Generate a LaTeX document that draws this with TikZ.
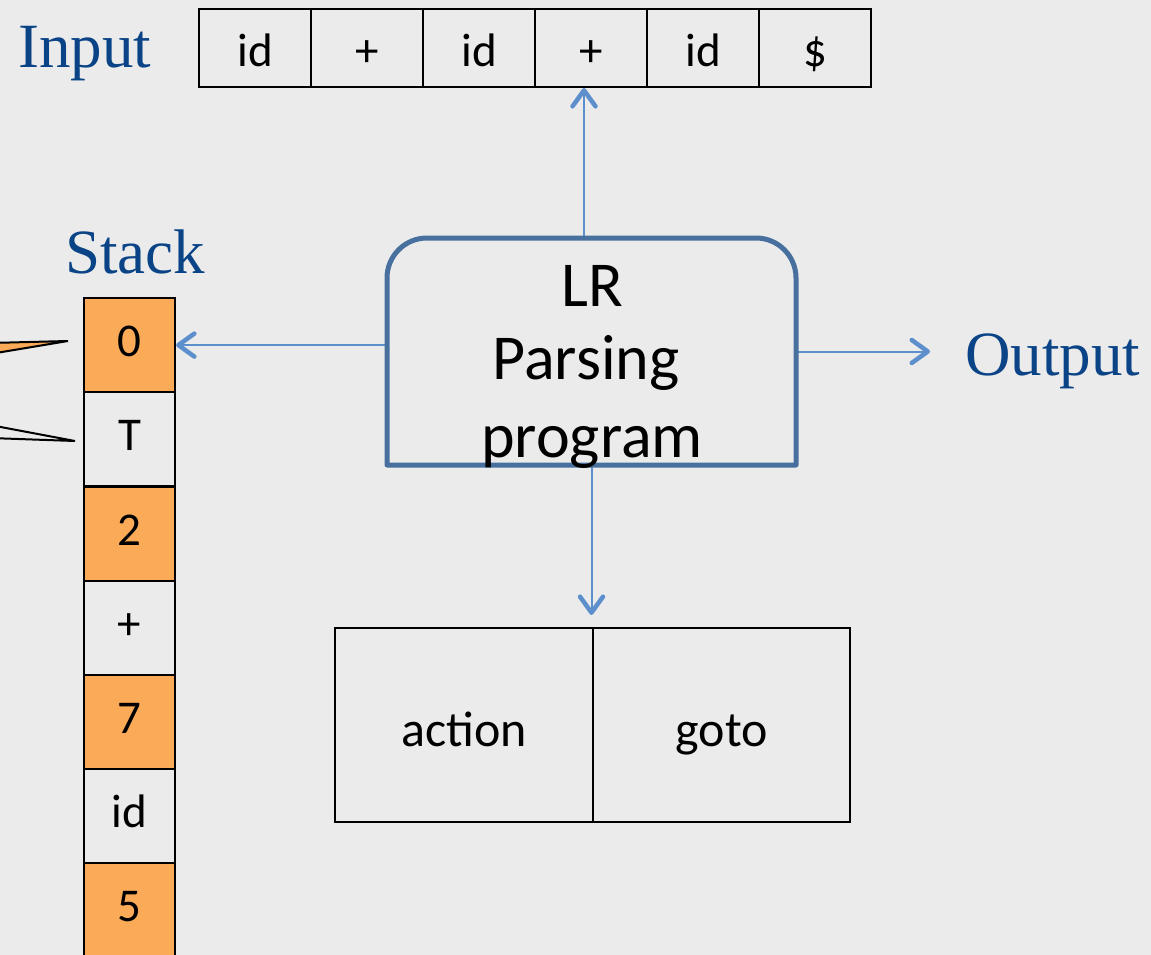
\documentclass[tikz,border=0pt]{standalone}
\usepackage{fontspec}
\setmainfont{Liberation Serif}
\newfontfamily\calib{Carlito}
\usetikzlibrary{arrows.meta,calc}
\definecolor{bg}{RGB}{235,235,235}
\definecolor{orng}{RGB}{251,170,88}
\definecolor{lblue}{RGB}{10,68,134}
\definecolor{connblue}{RGB}{92,143,203}
\definecolor{framecol}{RGB}{72,112,158}

\begin{document}
\begin{tikzpicture}[x=1pt,y=-1pt,
  cell/.style={draw=black, line width=2.2pt, inner sep=0pt,
    font={\calib\fontsize{47}{56}\selectfont}},
  incell/.style={cell, minimum width=112pt, minimum height=78pt,
    text height=38pt, text depth=0pt},
  stk/.style={cell, minimum width=91pt, minimum height=94.2pt,
    text height=23pt, text depth=0pt},
  stkstate/.style={stk, fill=orng},
  tblcell/.style={cell, minimum height=194pt, text height=42pt, text depth=0pt,
    font={\calib\fontsize{50}{60}\selectfont}},
  lbl/.style={anchor=base west, text=lblue, inner sep=0pt,
    font={\fontsize{63}{75}\selectfont}},
  lrtext/.style={anchor=base, inner sep=0pt,
    font={\calib\fontsize{64}{76}\selectfont}},
  lrframe/.style={draw=framecol, line width=5pt, line join=round},
  ptr/.style={draw=connblue, line width=2pt,
    -{Straight Barb[length=16pt,width=23pt,line width=4.5pt,round]}},
  callout/.style={draw=black, line width=2pt, line join=miter}
]
\clip (0,0) rectangle (1151,955);
\fill[bg] (0,0) rectangle (1151,955);

% input tape
\foreach \t [count=\i] in {id,+,id,+,id,\$}
  \node[incell] (in\i) at ({255+112*(\i-1)},48) {\t};
\node[lbl] (inlbl) at (18,68) {Input};

% stack, states shaded
\node[stkstate] (s0) at (129.5,345.1) {0};
\node[stk]      (s1) at (129.5,439.3) {T};
\node[stkstate] (s2) at (129.5,533.5) {2};
\node[stk]      (s3) at (129.5,627.7) {+};
\node[stkstate] (s4) at (129.5,721.9) {7};
\node[stk]      (s5) at (129.5,816.1) {id};
\node[stkstate] (s6) at (129.5,910.3) {5};
\node[lbl] (stlbl) at (65,273) {Stack};

% callout pointers into the stack
\fill[orng] (-10,343) -- (68,341) -- (-10,354) -- cycle;
\draw[callout] (-10,343) -- (68,341) -- (-10,354);
\fill[bg] (-10,425) -- (75,441) -- (-10,438) -- cycle;
\draw[callout] (-10,425) -- (75,441) -- (-10,438);

% parsing table
\node[tblcell, minimum width=258pt] (ta) at (464,725) {action};
\node[tblcell, minimum width=257pt] (tg) at (721.5,725) {goto};

% parsing program
\node[minimum width=409pt, minimum height=227pt, inner sep=0pt, outer sep=0pt] (lr) at (591.5,351.5) {};
\coordinate (upstart) at ($(lr.north)+(-7.5,0)$);
\coordinate (downend) at ($(lr.south |- ta.north)+(0,-12)$);
\coordinate (outpt) at (930,351.5);
\node[lbl] (outlbl) at (965,375) {Output};

\draw[ptr] (upstart) -- (upstart |- in4.south);
\draw[ptr] (lr.west |- s0.east) -- (s0.east);
\draw[ptr] (lr.east) -- (outpt);
\draw[ptr] (lr.south) -- (downend);

\draw[lrframe] (lr.south west) -- ($(lr.north west)+(0,40)$)
  arc[start angle=180, end angle=90, radius=40pt]
  -- ($(lr.north east)+(-40,0)$)
  arc[start angle=90, end angle=0, radius=40pt]
  -- (lr.south east) -- cycle;

\node[lrtext] (lr1) at (592,306) {LR};
\node[lrtext] (lr2) at (586,379) {Parsing};
\node[lrtext] (lr3) at (592,457) {program};
\end{tikzpicture}
\end{document}
